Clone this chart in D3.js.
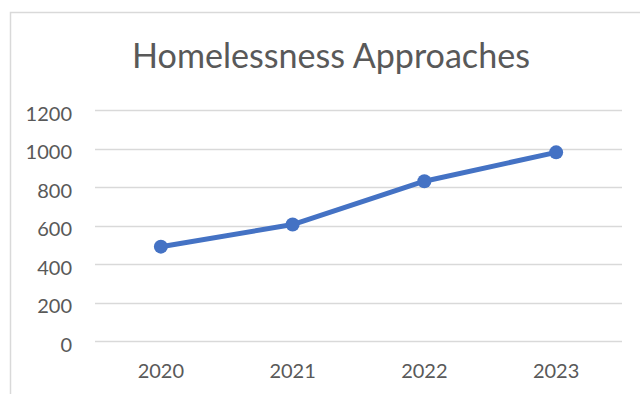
<!DOCTYPE html>
<html>
<head>
<meta charset="utf-8">
<script src="https://cdn.jsdelivr.net/npm/d3@7"></script>
<style>
  body { margin: 0; background: #fff; }
  text { font-family: Lato, "Open Sans", sans-serif; fill: #595959; }
</style>
</head>
<body>
<div id="chart"></div>
<script>
// chart data
var years = ["2020", "2021", "2022", "2023"];
var approaches = [490, 605, 830, 980];
var yTicks = [0, 200, 400, 600, 800, 1000, 1200];
var title = "Homelessness Approaches";

var width = 640, height = 394;
var margin = {left: 95, right: 18, top: 110, bottom: 53};

var svg = d3.select("#chart").append("svg")
    .attr("width", width)
    .attr("height", height);

// chart area border (only top and left show in the crop)
svg.append("rect")
    .attr("x", 10.5).attr("y", 12.5)
    .attr("width", 700).attr("height", 500)
    .attr("fill", "none")
    .attr("stroke", "#d9d9d9")
    .attr("stroke-width", 1.5);

var x = d3.scaleBand()
    .domain(years)
    .range([margin.left, width - margin.right]);

var y = d3.scaleLinear()
    .domain([0, 1200])
    .range([height - margin.bottom, margin.top]);

// gridlines
svg.append("g")
    .selectAll("line")
    .data(yTicks)
    .enter().append("line")
    .attr("x1", margin.left)
    .attr("x2", width - margin.right)
    .attr("y1", d => Math.round(y(d)) + 0.5)
    .attr("y2", d => Math.round(y(d)) + 0.5)
    .attr("stroke", "#d9d9d9")
    .attr("stroke-width", 1.5);

// y axis labels
var yAxis = svg.append("g")
    .attr("transform", "translate(" + margin.left + ",0)")
    .call(d3.axisLeft(y).tickValues(yTicks).tickFormat(d3.format("d")).tickSize(0).tickPadding(23));
yAxis.select(".domain").remove();
yAxis.selectAll("text")
    .attr("dy", "0.62em")
    .attr("y", -2)
    .style("font-size", "20px")
    .style("font-family", "Lato, sans-serif")
    .attr("fill", "#595959");

// x axis labels
var xAxis = svg.append("g")
    .attr("transform", "translate(0," + (height - margin.bottom) + ")")
    .call(d3.axisBottom(x).tickSize(0).tickPadding(23));
xAxis.select(".domain").remove();
xAxis.selectAll("text")
    .style("font-size", "20px")
    .style("font-family", "Lato, sans-serif")
    .attr("fill", "#595959");

// line + markers
var line = d3.line()
    .x((d, i) => x(years[i]) + x.bandwidth() / 2)
    .y(d => y(d));

svg.append("path")
    .datum(approaches)
    .attr("d", line)
    .attr("fill", "none")
    .attr("stroke", "#4472c4")
    .attr("stroke-width", 5)
    .attr("stroke-linejoin", "round")
    .attr("stroke-linecap", "round");

svg.selectAll(".dot")
    .data(approaches)
    .enter().append("circle")
    .attr("class", "dot")
    .attr("cx", (d, i) => x(years[i]) + x.bandwidth() / 2)
    .attr("cy", d => y(d))
    .attr("r", 7)
    .attr("fill", "#4472c4");

// title, sized to span roughly the same width as the original
var t = svg.append("text")
    .attr("x", 331)
    .attr("y", 68)
    .attr("text-anchor", "middle")
    .style("font-size", "32px")
    .text(title);
var w = t.node().getComputedTextLength();
t.style("font-size", (32 * 398 / w) + "px");
</script>
</body>
</html>
